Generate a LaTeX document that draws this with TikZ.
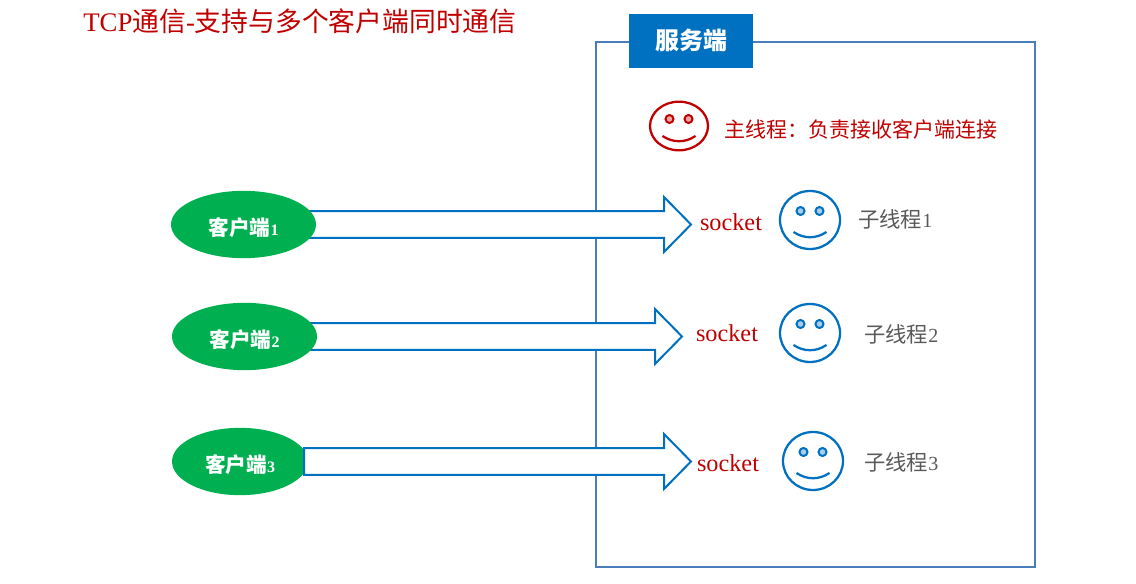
\documentclass[tikz,border=0pt]{standalone}
\usepackage{fontspec}
\setmainfont{Liberation Serif}
\newfontfamily\cjk{Noto Sans CJK SC}
\usetikzlibrary{calc,shapes.geometric}
\pgfdeclarelayer{back}
\pgfsetlayers{back,main}
\definecolor{accent}{HTML}{0070C0}
\definecolor{frameblue}{HTML}{4A7EBB}
\definecolor{alert}{HTML}{C00000}
\definecolor{clientgreen}{HTML}{00B050}
\definecolor{muted}{HTML}{595959}
\tikzset{
  x=0.75pt,y=-0.75pt,
  client/.style={ellipse,fill=clientgreen,minimum width=108.75pt,minimum height=50.5pt,inner sep=0pt,text=white,font=\bfseries\fontsize{15.5}{16}\selectfont},
  clientsmall/.style={ellipse,fill=clientgreen,minimum width=102pt,minimum height=50.5pt,inner sep=0pt,text=white,font=\bfseries\fontsize{15.5}{16}\selectfont},
  blockarrow/.style={draw=accent,fill=white,line width=1.5pt,miter limit=10,
    to path={let \p1=(\tikztostart),\p2=(\tikztotarget) in
      (\x1,\y1+10.1pt) -- (\x2-20.25pt,\y1+10.1pt) -- (\x2-20.25pt,\y1+20.6pt) -- (\x2,\y1)
      -- (\x2-20.25pt,\y1-20.6pt) -- (\x2-20.25pt,\y1-10.1pt) -- (\x1,\y1-10.1pt) -- cycle}},
  facering/.style={ellipse,draw=#1,line width=1.7pt,fill=white,inner sep=0pt},
  eye/.style={circle,draw=#1,fill=#1!35,line width=1.5pt,minimum size=6pt,inner sep=0pt},
  sockettext/.style={text=alert,font=\fontsize{18.2}{18}\selectfont,inner sep=0pt},
  threadtext/.style={anchor=west,text=muted,font=\fontsize{16}{16}\selectfont,inner sep=0pt},
}
% A smiling face: ring, two eyes and a mouth.
% Arguments: colour, x, y, ring width, ring height, name, eye offset, mouth offset
\newcommand{\smiley}[8]{%
  \node[facering=#1,minimum width=#4,minimum height=#5] (#6) at (#2,#3) {};
  \node[eye=#1] (#6l) at ($(#6.center)+(-9.5,#7)$) {};
  \node[eye=#1] (#6r) at ($(#6.center)+(9.5,#7)$) {};
  \draw[#1,line width=1.7pt] ($(#6.center)+(-16.5,#8)$) .. controls ($(#6.center)+(-6,#8+7)$) and ($(#6.center)+(6,#8+7)$) .. ($(#6.center)+(16.5,#8)$);
}
% Client caption, boxed so that it sits a little below the centre of the ellipse
\newcommand{\clientname}[1]{\raisebox{0pt}[16.3pt][0pt]{{\cjk 客户端}\fontsize{12}{12}\selectfont #1}}
\begin{document}
\begin{tikzpicture}
\useasboundingbox (0,0) rectangle (1136,584);

% Title
\node[anchor=west,inner sep=0pt,text=alert,font=\fontsize{20.1}{20}\selectfont] (title) at (83,21) {TCP{\cjk 通信}-{\cjk 支持与多个客户端同时通信}};

% Clients
\node[client] (c1) at (243.5,224.5) {\clientname{1}};
\node[client] (c2) at (244.5,336.5) {\clientname{2}};
\node[clientsmall] (c3) at (240,461.5) {\clientname{3}};

% Server frame and its tab
\begin{pgfonlayer}{back}
  \node[draw=frameblue,line width=1.5pt,fill=white,minimum width=329.25pt,minimum height=393.75pt,inner sep=0pt] (server) at (815.5,304.5) {};
\end{pgfonlayer}
\node[fill=accent,minimum width=93pt,minimum height=40.5pt,inner sep=0pt,text=white,font=\bfseries\fontsize{18}{18}\selectfont\cjk] (tab) at (691,41) {\raisebox{0pt}[12.3pt][0pt]{服务端}};

% Arrow tips
\coordinate (t1) at (691,224.5);
\coordinate (t2) at (682,336.5);
\coordinate (t3) at (691,461.5);
\coordinate (c3edge) at (304,461.5);

% Block arrows from the clients into the server
\begin{pgfonlayer}{back}
  \draw[blockarrow] (c1) to (t1);
  \draw[blockarrow] (c2) to (t2);
\end{pgfonlayer}
\draw[blockarrow] (c3edge) to (t3);

% Main thread
\smiley{alert}{679}{126}{43.5pt}{36.5pt}{mainface}{-7}{10}
\node[anchor=west,inner sep=0pt,text=alert,font=\fontsize{15.75}{16}\selectfont\cjk] (mainlabel) at (724,129) {主线程：负责接收客户端连接};

% Worker threads
\node[sockettext] (s1) at (731,222) {socket};
\node[sockettext] (s2) at (727,333) {socket};
\node[sockettext] (s3) at (728,463) {socket};

\smiley{accent}{810}{220}{45pt}{43.5pt}{f1}{-9}{12}
\smiley{accent}{810}{333}{45pt}{43.5pt}{f2}{-9}{12}
\smiley{accent}{813}{461}{45pt}{43.5pt}{f3}{-9}{12}

\node[threadtext] (w1) at (858,219) {{\cjk 子线程}\fontsize{15}{15}\selectfont 1};
\node[threadtext] (w2) at (864,334) {{\cjk 子线程}\fontsize{15}{15}\selectfont 2};
\node[threadtext] (w3) at (864,462) {{\cjk 子线程}\fontsize{15}{15}\selectfont 3};
\end{tikzpicture}
\end{document}
